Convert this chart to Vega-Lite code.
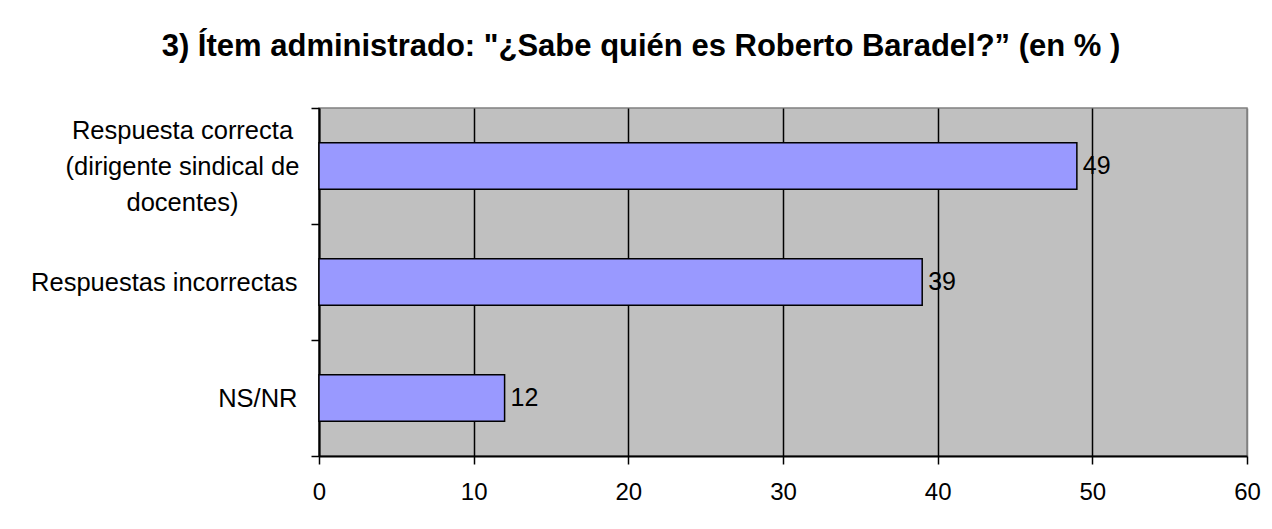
{
  "$schema": "https://vega.github.io/schema/vega-lite/v6.json",
  "width": 928,
  "height": 348,
  "autosize": {"type": "none"},
  "padding": {"left": 319, "top": 108, "right": 25, "bottom": 73},
  "background": "white",
  "title": {
    "text": "3) Ítem administrado: \"¿Sabe quién es Roberto Baradel?” (en % )",
    "font": "Liberation Sans",
    "fontSize": 31,
    "fontWeight": "bold",
    "color": "black",
    "anchor": "middle",
    "dx": -142,
    "baseline": "alphabetic",
    "offset": 9
  },
  "data": {
    "values": [
      {"categoria": "Respuesta correcta (dirigente sindical de docentes)", "porcentaje": 49},
      {"categoria": "Respuestas incorrectas", "porcentaje": 39},
      {"categoria": "NS/NR", "porcentaje": 12}
    ]
  },
  "config": {
    "view": {"fill": "#C0C0C0", "stroke": "#808080", "strokeWidth": 1.5}
  },
  "encoding": {
    "y": {
      "field": "categoria",
      "type": "nominal",
      "sort": null,
      "scale": {"paddingInner": 0, "paddingOuter": 0},
      "axis": {
        "title": null,
        "grid": false,
        "domainColor": "black",
        "domainWidth": 2,
        "tickColor": "black",
        "tickWidth": 1.5,
        "tickSize": 8,
        "tickBand": "extent",
        "labelFont": "Liberation Sans",
        "labelFontSize": 25.5,
        "labelColor": "black",
        "labelPadding": 14,
        "labelLineHeight": 36,
        "labelLimit": 0,
        "labelAlign": {"condition": {"test": "datum.value == 'Respuesta correcta (dirigente sindical de docentes)'", "value": "center"}, "value": "right"},
        "labelOffset": {"condition": {"test": "datum.value == 'Respuesta correcta (dirigente sindical de docentes)'", "value": -36}, "value": 0},
        "labelExpr": "datum.value == 'Respuesta correcta (dirigente sindical de docentes)' ? ['Respuesta correcta', '(dirigente sindical de', 'docentes)'] : datum.value",
        "encoding": {
          "labels": {
            "dx": {"condition": {"test": "datum.value == 'Respuesta correcta (dirigente sindical de docentes)'", "value": -115}, "value": 0}
          }
        }
      }
    }
  },
  "layer": [
    {
      "mark": {"type": "bar", "fill": "#9999FF", "stroke": "black", "strokeWidth": 1.5, "height": {"band": 0.4}},
      "encoding": {
        "x": {
          "field": "porcentaje",
          "type": "quantitative",
          "scale": {"domain": [0, 60]},
          "axis": {
            "title": null,
            "values": [0, 10, 20, 30, 40, 50, 60],
            "grid": true,
            "gridColor": {"condition": {"test": "datum.value == 60", "value": "#808080"}, "value": "black"},
            "gridWidth": 1.5,
            "domainColor": "black",
            "domainWidth": 2,
            "tickColor": "black",
            "tickWidth": 1.5,
            "tickSize": 8,
            "labelFont": "Liberation Sans",
            "labelFontSize": 24,
            "labelColor": "black",
            "labelPadding": 16,
            "labelFlush": false
          }
        }
      }
    },
    {
      "mark": {"type": "text", "align": "left", "dx": 6, "baseline": "middle", "font": "Liberation Sans", "fontSize": 25, "color": "black"},
      "encoding": {
        "x": {"field": "porcentaje", "type": "quantitative"},
        "text": {"field": "porcentaje", "type": "quantitative"}
      }
    }
  ]
}
